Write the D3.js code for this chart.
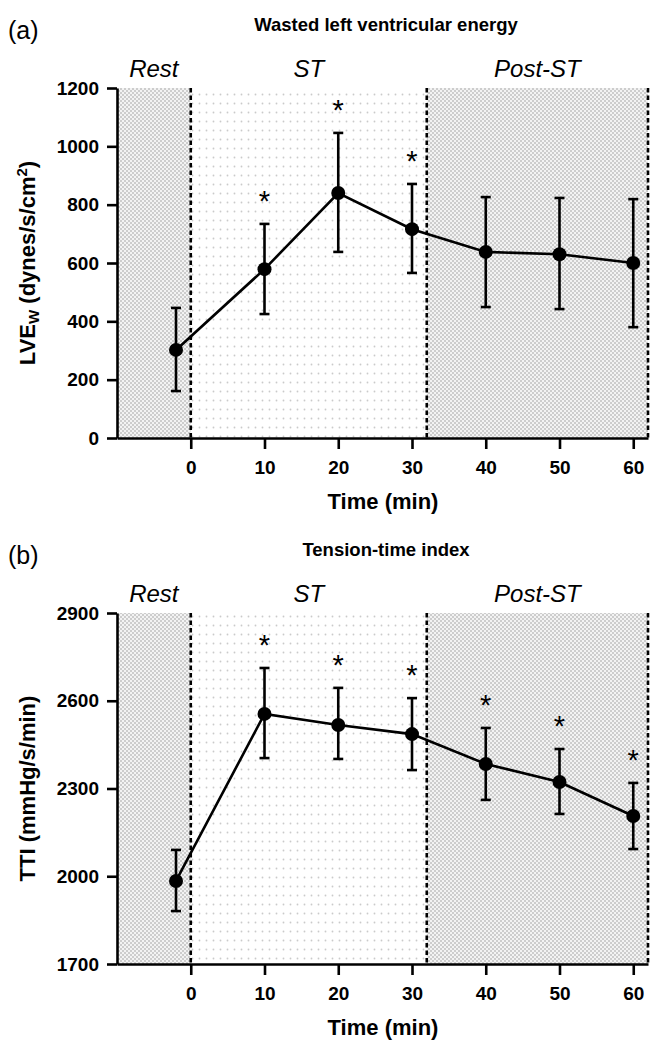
<!DOCTYPE html>
<html>
<head>
<meta charset="utf-8">
<script src="https://cdn.jsdelivr.net/npm/d3@7"></script>
<style>
  html, body { margin: 0; padding: 0; background: #fff; }
  svg { display: block; font-family: "Liberation Sans", Arial, Helvetica, sans-serif; }
</style>
</head>
<body>
<svg id="chart" width="659" height="1050"></svg>
<script>
// ---------- data ----------
const timepoints = [-2, 10, 20, 30, 40, 50, 60];
const xTicks = [0, 10, 20, 30, 40, 50, 60];
const phaseNames = ["Rest", "ST", "Post-ST"];
const phaseBounds = [-10, 0, 32, 62];

const lvewMean = [302, 579, 840, 716, 638, 630, 600];
const lvewLow  = [161, 425, 638, 566, 449, 442, 380];
const lvewHigh = [446, 734, 1046, 871, 826, 823, 819];
const lvewStars = [false, true, true, true, false, false, false];
const lvewTicks = [0, 200, 400, 600, 800, 1000, 1200];

const ttiMean = [1984, 2555, 2517, 2486, 2384, 2322, 2206];
const ttiLow  = [1881, 2404, 2401, 2363, 2261, 2213, 2093];
const ttiHigh = [2090, 2712, 2644, 2609, 2507, 2435, 2319];
const ttiStars = [false, true, true, true, true, true, true];
const ttiTicks = [1700, 2000, 2300, 2600, 2900];

const svg = d3.select("#chart");

// ---------- patterns ----------
const defs = svg.append("defs");
const checker = defs.append("pattern").attr("id", "checker")
  .attr("patternUnits", "userSpaceOnUse").attr("width", 4).attr("height", 4);
checker.append("rect").attr("width", 4).attr("height", 4).attr("fill", "#f3f3f3");
checker.append("rect").attr("width", 2).attr("height", 2).attr("fill", "#cdcdcd");
checker.append("rect").attr("x", 2).attr("y", 2).attr("width", 2).attr("height", 2).attr("fill", "#cdcdcd");

const dots = defs.append("pattern").attr("id", "dots")
  .attr("patternUnits", "userSpaceOnUse").attr("width", 7).attr("height", 9);
dots.append("rect").attr("width", 7).attr("height", 9).attr("fill", "#ffffff");
dots.append("circle").attr("cx", 3.5).attr("cy", 4.5).attr("r", 0.9).attr("fill", "#cacaca");

const phaseFills = ["url(#checker)", "url(#dots)", "url(#checker)"];

function panel(cfg) {
  const g = svg.append("g");
  const x = d3.scaleLinear().domain([-10, 62]).range([117, 648]);
  const y = d3.scaleLinear().domain(cfg.yDomain).range([cfg.bottom, cfg.top]);

  // phase backgrounds
  for (let i = 0; i < 3; i++) {
    g.append("rect")
      .attr("x", x(phaseBounds[i])).attr("y", y(cfg.yDomain[1]))
      .attr("width", x(phaseBounds[i + 1]) - x(phaseBounds[i]))
      .attr("height", y(cfg.yDomain[0]) - y(cfg.yDomain[1]))
      .attr("fill", phaseFills[i]);
    g.append("text")
      .attr("x", (x(phaseBounds[i]) + x(phaseBounds[i + 1])) / 2)
      .attr("y", cfg.top - 11)
      .attr("text-anchor", "middle")
      .attr("font-style", "italic")
      .attr("font-size", 24)
      .text(phaseNames[i]);
  }
  // dashed phase lines
  [0, 32, 62].forEach(v => {
    g.append("line")
      .attr("x1", x(v)).attr("x2", x(v))
      .attr("y1", y(cfg.yDomain[1])).attr("y2", y(cfg.yDomain[0]))
      .attr("stroke", "#000").attr("stroke-width", 2.6)
      .attr("stroke-dasharray", "4.5,3");
  });

  // axes
  const xAxis = g.append("g").attr("transform", `translate(0,${cfg.bottom})`)
    .call(d3.axisBottom(x).tickValues(xTicks).tickFormat(d3.format("d"))
      .tickSize(11).tickSizeOuter(0).tickPadding(12));
  const yAxis = g.append("g").attr("transform", `translate(${x(-10)},0)`)
    .call(d3.axisLeft(y).tickValues(cfg.yTicks).tickFormat(d3.format("d"))
      .tickSize(10).tickSizeOuter(0).tickPadding(8));
  [xAxis, yAxis].forEach(a => {
    a.select(".domain").attr("stroke", "#000").attr("stroke-width", 2.6);
    a.selectAll(".tick line").attr("stroke", "#000").attr("stroke-width", 2.6);
    a.selectAll(".tick text").attr("fill", "#000").attr("font-size", 19)
      .attr("font-weight", "bold").attr("font-family", "Liberation Sans, Arial, sans-serif");
  });

  // error bars
  const idx = d3.range(timepoints.length);
  idx.forEach(i => {
    const cx = x(timepoints[i]);
    g.append("line").attr("x1", cx).attr("x2", cx)
      .attr("y1", y(cfg.low[i])).attr("y2", y(cfg.high[i]))
      .attr("stroke", "#000").attr("stroke-width", 2.6);
    [cfg.low[i], cfg.high[i]].forEach(v => {
      g.append("line").attr("x1", cx - 5).attr("x2", cx + 5)
        .attr("y1", y(v)).attr("y2", y(v))
        .attr("stroke", "#000").attr("stroke-width", 2.6);
    });
    if (cfg.stars[i]) {
      g.append("text").attr("x", cx).attr("y", y(cfg.high[i]) - 13)
        .attr("text-anchor", "middle").attr("font-size", 29).text("*");
    }
  });

  // line
  const line = d3.line().x((d, i) => x(timepoints[i])).y(d => y(d));
  g.append("path").datum(cfg.mean).attr("d", line)
    .attr("fill", "none").attr("stroke", "#000").attr("stroke-width", 2.6);
  g.selectAll("circle.pt").data(cfg.mean).enter().append("circle")
    .attr("cx", (d, i) => x(timepoints[i])).attr("cy", d => y(d)).attr("r", 7)
    .attr("fill", "#000");

  // titles and labels
  svg.append("text").attr("x", 8).attr("y", cfg.letterY)
    .attr("font-size", 25).text(cfg.letter);
  svg.append("text").attr("x", 386).attr("y", cfg.titleY)
    .attr("text-anchor", "middle").attr("font-weight", "bold").attr("font-size", 18.5)
    .text(cfg.title);
  svg.append("text").attr("x", 383).attr("y", cfg.bottom + 71)
    .attr("text-anchor", "middle").attr("font-weight", "bold").attr("font-size", 22)
    .text("Time (min)");
  const yl = svg.append("text")
    .attr("transform", `translate(35,${(cfg.top + cfg.bottom) / 2}) rotate(-90)`)
    .attr("text-anchor", "middle").attr("font-weight", "bold").attr("font-size", 22);
  cfg.yLabel(yl);
}

panel({
  top: 88, bottom: 438, yDomain: [0, 1200], yTicks: lvewTicks,
  mean: lvewMean, low: lvewLow, high: lvewHigh, stars: lvewStars,
  letter: "(a)", letterY: 39, title: "Wasted left ventricular energy", titleY: 31,
  yLabel: t => {
    t.append("tspan").text("LVE");
    t.append("tspan").attr("font-size", 15).attr("dy", 4).text("W");
    t.append("tspan").attr("dy", -4).text(" (dynes/s/cm");
    t.append("tspan").attr("font-size", 15).attr("dy", -8).text("2");
    t.append("tspan").attr("dy", 8).text(")");
  }
});

panel({
  top: 613, bottom: 964, yDomain: [1700, 2900], yTicks: ttiTicks,
  mean: ttiMean, low: ttiLow, high: ttiHigh, stars: ttiStars,
  letter: "(b)", letterY: 564, title: "Tension-time index", titleY: 556,
  yLabel: t => { t.text("TTI (mmHg/s/min)"); }
});
</script>
</body>
</html>
